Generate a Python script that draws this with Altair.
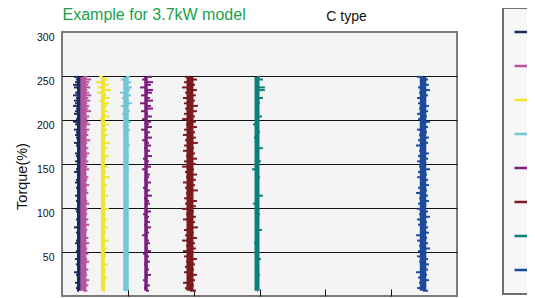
import altair as alt
import pandas as pd

SERIES = ["130 r/min", "160 r/min", "310 r/min", "490 r/min",
          "640 r/min", "970 r/min", "1480 r/min", "2740 r/min"]
COLORS = ["#1c2a5c", "#b455a0", "#f0e52e", "#72c6d6",
          "#7a1e7c", "#7c1a22", "#0d7f7b", "#1c4b9c"]
CENTERS = [129, 162, 311, 486, 638, 972, 1481, 2742]
CORE_WIDTH = [4, 6, 4, 5.5, 3.5, 7, 5, 6.5]

TORQUE = [6, 9, 12, 15, 18, 21, 24, 27, 30, 33, 36, 39, 42, 45, 48, 51, 54, 57,
          60, 63, 66, 69, 72, 75, 78, 81, 84, 87, 90, 93, 96, 99, 102, 105, 108,
          111, 114, 117, 120, 123, 126, 129, 132, 135, 138, 141, 144, 147, 150,
          153, 156, 159, 162, 165, 168, 171, 174, 177, 180, 183, 186, 189, 192,
          195, 198, 201, 204, 207, 210, 213, 216, 219, 222, 225, 228, 231, 234,
          237, 240, 243, 246, 249]

DEV_NAVY = [-15, -23, -8, -30, -15, 8, -23, -38, -15, -8,
            -23, -15, -30, -8, -15, -23, 8, -15, -30, -23,
            -8, -15, -23, -15, -38, -8, -15, -23, 8, -15,
            -23, -30, -15, -8, -23, -15, -30, -15, -8, -23,
            -15, -30, -23, -8, -15, -38, -23, -15, -8, -30,
            -15, -23, -30, -15, -8, -23, -38, -15, -23, -30,
            -23, -38, -15, -30, -45, -23, -15, -38, -30, -23,
            -45, -30, -38, -23, -45, -30, -15, -38, -45, -30, -23, -38]
DEV_PINK = [30, 15, 38, 23, 45, 15, 30, 23, 38, 15,
            23, 45, 30, 15, 38, 23, 30, 15, 45, 23,
            38, 15, 23, 30, 15, 45, 23, 38, 15, 30,
            23, 38, 15, 45, 30, 23, 15, 38, 30, 23,
            45, 15, 30, 38, 23, 15, 45, 30, 23, 38,
            15, 30, 45, 23, 38, 15, 30, 53, 23, 38,
            30, 45, 23, 53, 38, 30, 45, 23, 60, 38,
            45, 30, 53, 38, 60, 45, 30, 53, 38, 45, 60, 30]
DEV_YELLOW = [15, -15, 23, 8, -8, 30, 15, -15, 23, 8,
              38, -8, 15, 23, -15, 8, 30, 15, -8, 45,
              15, -15, 23, 8, 38, -8, 15, 30, -15, 23,
              8, 45, -8, 23, 15, -15, 38, 8, 23, -8,
              30, 15, -15, 53, 8, 23, -8, 38, 15, -15,
              23, 45, 8, -15, 30, 15, 53, -8, 23, 38,
              -15, 30, 8, 45, 23, -23, 53, 15, 38, -8,
              30, 45, -30, 53, 23, -45, 60, -38, 45, -53, 38, -30]
DEV_CYAN = [8, -8, 15, -15, 8, 23, -8, 15, -15, 8,
            -8, 15, 8, -15, 23, -8, 8, 15, -15, 8,
            15, -8, 23, 8, -15, 15, -8, 8, 23, -15,
            8, 15, -8, -15, 23, 8, -8, 15, 8, -15,
            23, -8, 15, 8, -15, 8, 23, -8, 15, -15,
            8, 23, -15, 15, -8, 30, 8, -15, 23, -23,
            15, 30, -23, 8, 38, -15, 23, -30, 30, 15,
            -38, 45, 23, -30, 38, -45, 30, 45, -23, 38, -38, 30]
DEV_PURPLE = [23, -15, 30, 8, -23, 15, 38, -8, 23, 15,
              -15, 30, 8, 23, -23, 38, 15, -8, 30, 23,
              8, -30, 23, 15, 38, -15, 30, 8, 23, -23,
              38, 15, -8, 30, 23, -15, 45, 8, 30, -23,
              15, 38, -15, 23, 30, 8, -30, 38, 15, 23,
              -23, 45, 15, 30, -15, 38, 23, -30, 45, 15,
              30, -38, 45, 23, 38, -30, 45, 15, -38, 53,
              38, -45, 53, 30, -38, 45, 53, -45, 38, 53, -30, 45]
DEV_RED = [45, -38, 30, -53, 38, -23, 53, -45, 30, -38,
           38, -30, 53, -45, 23, -53, 45, -30, 38, -60,
           53, -38, 30, -45, 60, -23, 38, -53, 45, -30,
           30, -60, 45, -38, 53, -45, 23, -30, 60, -38,
           38, -53, 45, -30, 53, -38, 30, -60, 45, -45,
           53, -30, 38, -53, 30, -45, 60, -38, 45, -53,
           38, -45, 53, -30, 45, -60, 38, -45, 53, -38,
           60, -45, 38, -53, 45, -38, 53, -60, 38, -45, 53, -38]
DEV_TEAL = [8, -8, 15, 8, -15, 8, 23, -8, 8, 15,
            -8, 8, 30, -15, 8, -8, 15, 8, -23, 8,
            15, -8, 8, 38, -8, 15, 8, -15, 8, 23,
            -8, 8, 15, -30, 8, -8, 45, 8, -15, 8,
            15, -8, 8, 23, -8, 15, -38, 8, 8, 30,
            -8, 15, 8, -15, 45, 8, -8, 15, -23, 8,
            23, -8, 8, -30, 15, 8, 38, -8, 15, 8,
            -15, 23, 8, 45, -8, 15, 60, 60, 8, -15, 45, 23]
DEV_BLUE = [38, -45, 23, -30, 45, -38, 30, -53, 38, -23,
            45, -30, 38, -45, 23, -38, 53, -30, 38, -45,
            30, -53, 45, -23, 38, -38, 30, -45, 53, -30,
            38, -45, 23, -38, 45, -30, 38, -53, 30, -38,
            45, -23, 38, -45, 30, -38, 53, -30, 23, -45,
            38, -38, 45, -30, 23, -53, 38, -38, 45, -30,
            30, -45, 38, -23, 53, -38, 30, -45, 38, -30,
            45, -38, 23, -45, 38, -30, 53, -38, 45, -23, 38, -45]

DEVS = [DEV_NAVY, DEV_PINK, DEV_YELLOW, DEV_CYAN,
        DEV_PURPLE, DEV_RED, DEV_TEAL, DEV_BLUE]

spike_rows = []
core_rows = []
for name, c, w, dev in zip(SERIES, CENTERS, CORE_WIDTH, DEVS):
    assert len(dev) == len(TORQUE)
    core_rows.append({"series": name, "speed": c, "t0": TORQUE[0],
                      "t1": TORQUE[-1], "w": w})
    for t, d in zip(TORQUE, dev):
        spike_rows.append({"series": name, "speed": c, "tip": c + d, "torque": t})

spikes = pd.DataFrame(spike_rows)
cores = pd.DataFrame(core_rows)

xscale = alt.Scale(domain=[0, 3000], nice=False, zero=False)
yscale = alt.Scale(domain=[0, 300], nice=False)
cscale = alt.Scale(domain=SERIES, range=COLORS)

legend = alt.Legend(orient="none", legendX=441, legendY=-24, title=None,
                    symbolType="stroke", symbolSize=784, symbolStrokeWidth=2.5,
                    symbolOffset=-1, clipHeight=26,
                    padding=11, rowPadding=8, labelFontSize=12,
                    fillColor="#f7f7f7", strokeColor="#707070", labelColor="#111")

yaxis = alt.Axis(orient="left", values=[50, 100, 150, 200, 250, 300], title="Torque(%)",
                 titleFontSize=14.5, titleFontWeight="normal", titleColor="#111",
                 titleX=-40, titleY=144, titleBaseline="middle",
                 labelFontSize=10.5, labelColor="#111", labelOffset=5,
                 labelPadding=8, ticks=False, domain=False, grid=True,
                 gridColor="#111111", gridWidth=1,
                 gridOpacity=alt.condition("datum.value === 300", alt.value(0), alt.value(1)))

head_axis = alt.Axis(orient="right", title="Example for 3.7kW model", titleAngle=0,
                     titleX=-395, titleY=-12.5, titleAlign="left",
                     titleBaseline="alphabetic", titleColor="#1a9f4c",
                     titleFontSize=16, titleFontWeight="normal",
                     labels=False, ticks=False, domain=False, grid=False)

core = alt.Chart(cores).mark_rule().encode(
    x=alt.X("speed:Q", scale=xscale,
            axis=alt.Axis(orient="top", title="C type", labels=False, ticks=False,
                          domain=False, grid=False, titleFontSize=14,
                          titleFontWeight="normal", titleColor="#111",
                          titleX=284, titleY=-12, titleAlign="center",
                          titleBaseline="alphabetic")),
    y=alt.Y("t0:Q", scale=yscale, axis=yaxis),
    y2="t1:Q",
    color=alt.Color("series:N", scale=cscale, legend=legend),
    strokeWidth=alt.StrokeWidth("w:Q", scale=None),
)

spk = alt.Chart(spikes).mark_rule(strokeWidth=2).encode(
    x=alt.X("speed:Q", scale=xscale,
            axis=alt.Axis(orient="bottom", title="", labels=False, ticks=True,
                          tickSize=7, offset=-7, domain=False, grid=False,
                          values=[500, 1000, 1500, 2000, 2500],
                          tickColor="#111", tickWidth=1)),
    x2="tip:Q",
    y=alt.Y("torque:Q", scale=yscale, axis=head_axis),
    color=alt.Color("series:N", scale=cscale, legend=legend),
)

chart = alt.layer(core, spk).properties(
    width=395, height=264,
    autosize=alt.AutoSizeParams(type="none"),
    padding={"left": 54, "top": 24, "right": 70, "bottom": 2},
    background="white",
).configure(font="Liberation Sans").configure_view(
    stroke="#7a7a7a", strokeWidth=2, fill="#f4f4f4"
).configure_legend(strokeWidth=2)

chart.save("out.html", embed_options={"renderer": "svg", "actions": False})
